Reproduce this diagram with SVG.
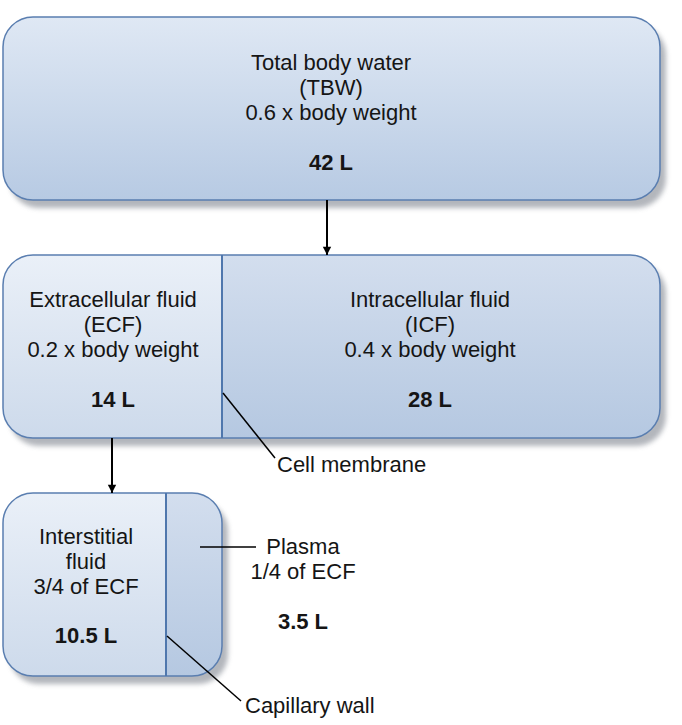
<svg xmlns="http://www.w3.org/2000/svg" width="682" height="725" viewBox="0 0 682 725">
<defs>
<linearGradient id="gMain" x1="0" y1="0" x2="0" y2="1">
<stop offset="0" stop-color="#dfe8f4"/>
<stop offset="1" stop-color="#b7cae3"/>
</linearGradient>
<linearGradient id="gLight" x1="0" y1="0" x2="0" y2="1">
<stop offset="0" stop-color="#eaf0f8"/>
<stop offset="1" stop-color="#cddaeb"/>
</linearGradient>
<linearGradient id="gDark" x1="0" y1="0" x2="0" y2="1">
<stop offset="0" stop-color="#d3deee"/>
<stop offset="1" stop-color="#b5c8e1"/>
</linearGradient>
<filter id="shadow" x="-10%" y="-10%" width="120%" height="130%">
<feGaussianBlur stdDeviation="2.5"/>
</filter>
<clipPath id="clip2"><rect x="3" y="255" width="657" height="183" rx="30"/></clipPath>
<clipPath id="clip3"><rect x="3" y="493" width="219" height="183" rx="30"/></clipPath>
<marker id="arrow" viewBox="0 0 10 12" refX="10" refY="6" markerWidth="14" markerHeight="10" markerUnits="userSpaceOnUse" orient="auto">
<path d="M0,1 L10,6 L0,11 z" fill="#000"/>
</marker>
</defs>
<style>
.box{stroke:#5a7eb0;stroke-width:1.5}
.div{stroke:#4f77ad;stroke-width:2}
.sh{fill:#9a9ea6;opacity:0.75}
text{font-family:"Liberation Sans",Arial,Helvetica,sans-serif;font-size:22px;fill:#151515}
.c{text-anchor:middle}
.b{font-weight:bold}
.conn{stroke:#000;stroke-width:2;fill:none}
.lead{stroke:#000;stroke-width:1.5;fill:none}
</style>

<g id="tbw">
<rect class="sh" x="9" y="25" width="657" height="183" rx="30" filter="url(#shadow)"/>
<rect class="box" x="3" y="17" width="657" height="183" rx="30" fill="url(#gMain)"/>
<text class="c" x="331" y="70">Total body water</text>
<text class="c" x="331" y="95">(TBW)</text>
<text class="c" x="331" y="120">0.6 x body weight</text>
<text class="c b" x="331" y="170">42 L</text>
</g>

<g id="ecf-icf">
<rect class="sh" x="9" y="263" width="657" height="183" rx="30" filter="url(#shadow)"/>
<g clip-path="url(#clip2)">
<rect x="3" y="255" width="219" height="183" fill="url(#gLight)"/>
<rect x="222" y="255" width="438" height="183" fill="url(#gDark)"/>
</g>
<rect class="box" x="3" y="255" width="657" height="183" rx="30" fill="none"/>
<line class="div" x1="222" y1="255" x2="222" y2="438"/>
<g id="ecf">
<text class="c" x="113" y="307">Extracellular fluid</text>
<text class="c" x="113" y="332">(ECF)</text>
<text class="c" x="113" y="357">0.2 x body weight</text>
<text class="c b" x="113" y="407">14 L</text>
</g>
<g id="icf">
<text class="c" x="430" y="307">Intracellular fluid</text>
<text class="c" x="430" y="332">(ICF)</text>
<text class="c" x="430" y="357">0.4 x body weight</text>
<text class="c b" x="430" y="407">28 L</text>
</g>
</g>

<g id="ecf-split">
<rect class="sh" x="9" y="501" width="219" height="183" rx="30" filter="url(#shadow)"/>
<g clip-path="url(#clip3)">
<rect x="3" y="493" width="163" height="183" fill="url(#gLight)"/>
<rect x="166" y="493" width="56" height="183" fill="url(#gDark)"/>
</g>
<rect class="box" x="3" y="493" width="219" height="183" rx="30" fill="none"/>
<line class="div" x1="166" y1="493" x2="166" y2="676"/>
<g id="interstitial">
<text class="c" x="86" y="544">Interstitial</text>
<text class="c" x="86" y="569">fluid</text>
<text class="c" x="86" y="594">3/4 of ECF</text>
<text class="c b" x="86" y="643">10.5 L</text>
</g>
</g>

<g id="plasma">
<text class="c" x="303" y="554">Plasma</text>
<text class="c" x="303" y="579">1/4 of ECF</text>
<text class="c b" x="303" y="629">3.5 L</text>
</g>

<g id="cell-membrane-label">
<text x="277" y="472">Cell membrane</text>
</g>

<g id="capillary-wall-label">
<text x="245" y="713">Capillary wall</text>
</g>

<g id="connectors">
<line class="conn" x1="327" y1="200" x2="327" y2="255" marker-end="url(#arrow)"/>
<line class="conn" x1="112" y1="438" x2="112" y2="493" marker-end="url(#arrow)"/>
<line class="lead" x1="223" y1="393" x2="275" y2="458"/>
<line class="lead" x1="200" y1="547" x2="256" y2="547"/>
<line class="lead" x1="167" y1="636" x2="241" y2="701"/>
</g>
</svg>
